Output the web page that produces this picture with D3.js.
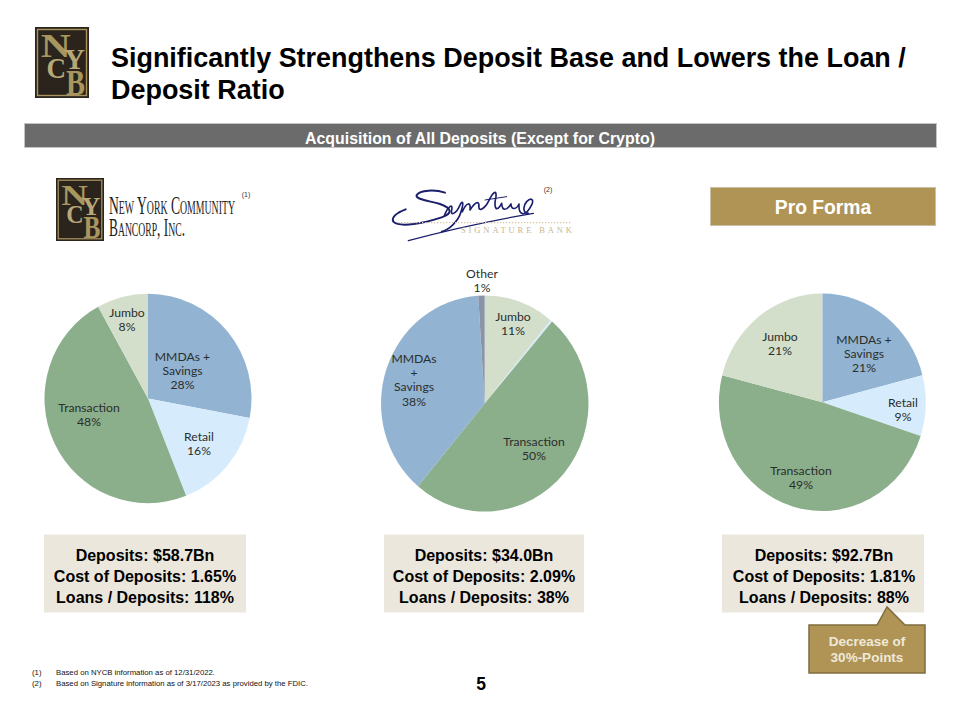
<!DOCTYPE html>
<html><head><meta charset="utf-8">
<script src="https://cdn.jsdelivr.net/npm/d3@7"></script>
<style>html,body{margin:0;padding:0;background:#fff}svg{display:block}</style>
</head><body><svg id="c" width="960" height="720"></svg>
<script>
// ---- data ----
const nycbCategories = ["MMDAs + Savings","Retail","Transaction","Jumbo"];
const nycbValues = [28,16,48,8];
const sigCategories = ["Jumbo","Retail","Transaction","MMDAs + Savings","Other"];
const sigValues = [11,0.3,50,38,1];
const proCategories = ["MMDAs + Savings","Retail","Transaction","Jumbo"];
const proValues = [21,9,49,21];
const nycbStats = ["Deposits: $58.7Bn","Cost of Deposits: 1.65%","Loans / Deposits: 118%"];
const sigStats = ["Deposits: $34.0Bn","Cost of Deposits: 2.09%","Loans / Deposits: 38%"];
const proStats = ["Deposits: $92.7Bn","Cost of Deposits: 1.81%","Loans / Deposits: 88%"];
const footnotes = ["Based on NYCB information as of 12/31/2022.","Based on Signature information as of 3/17/2023 as provided by the FDIC."];

const sliceColor = d3.scaleOrdinal()
  .domain(["MMDAs + Savings","Retail","Transaction","Jumbo","Other"])
  .range(["#92b3d2","#d6ebfc","#8bae8b","#d3dfcb","#8a94a6"]);

const svg = d3.select("#c");
const SANS = "'Liberation Sans',Arial,sans-serif";
const SERIF = "'Liberation Serif',serif";
const GOLD = "#b09455";

function txt(x,y,s,o={}){
  return svg.append("text").attr("x",x).attr("y",y).text(s)
    .attr("font-family",o.font||SANS).attr("font-size",o.size||12)
    .attr("font-weight",o.weight||"normal").attr("fill",o.fill||"#000")
    .attr("text-anchor",o.anchor||"start");
}

// ---- header ----
function nycbLogo(x,y,w,h){
  const g = svg.append("g").attr("transform",`translate(${x},${y}) scale(${w/54},${h/71})`);
  g.append("rect").attr("width",54).attr("height",71).attr("fill","#2a241c");
  g.append("rect").attr("x",2.5).attr("y",2.5).attr("width",49).attr("height",66).attr("fill","none").attr("stroke","#a8935f").attr("stroke-width",1.4);
  [["N",5.8,30,34,30,"#a8965f"],["Y",29,42,29,21,"#b8a878"],["C",11.5,51,29,19.5,"#b8a878"],["B",31,68,36,19,"#a8965f"]].forEach(([s,lx,ly,fs,tl,col])=>{
    g.append("text").attr("x",lx).attr("y",ly).attr("font-family",SERIF).attr("font-weight","bold")
      .attr("font-size",fs).attr("fill",col).attr("textLength",tl).attr("lengthAdjust","spacingAndGlyphs").text(s);
  });
}
nycbLogo(35,27,54,71);
txt(111,66.5,"Significantly Strengthens Deposit Base and Lowers the Loan /",{size:26.95,weight:"bold"});
txt(111,98.5,"Deposit Ratio",{size:26.95,weight:"bold"});

svg.append("rect").attr("x",24.5).attr("y",123.5).attr("width",912).attr("height",24).attr("fill","#6b6b6b").attr("stroke","#c4c4c4");
txt(480,144,"Acquisition of All Deposits (Except for Crypto)",{size:15.9,weight:"bold",fill:"#fff",anchor:"middle"});

// ---- company logos ----
nycbLogo(56,178,48,63);
txt(109,214,"New York Community",{font:SERIF,size:25,fill:"#222"}).attr("font-variant","small-caps").attr("textLength",126).attr("lengthAdjust","spacingAndGlyphs");
txt(109,235.5,"Bancorp, Inc.",{font:SERIF,size:25,fill:"#222"}).attr("font-variant","small-caps").attr("textLength",76).attr("lengthAdjust","spacingAndGlyphs");
txt(246,197,"(1)",{size:7,fill:"#333",anchor:"middle"});

const sig = svg.append("g").attr("transform","translate(385,180) scale(0.3333)")
  .attr("fill","none").attr("stroke","#1b1f6b").attr("stroke-linecap","round").attr("stroke-linejoin","round");
sig.append("path").attr("stroke-width",6)
  .attr("d","M180,38 C150,28 105,30 95,45 C90,58 130,62 165,72 C200,84 205,100 170,112 C120,128 45,145 25,125 C18,112 35,98 62,88");
sig.append("path").attr("stroke-width",5)
  .attr("d","M178,108 C185,85 205,65 200,90 C195,110 215,100 225,75 C232,60 238,65 228,95 C220,125 190,150 170,155 M232,95 C245,65 258,65 255,90 C268,70 280,60 282,75 C278,100 300,85 310,65 C322,40 335,25 333,50 C325,85 335,100 350,70 C352,95 365,92 378,72 C378,92 395,88 402,72 C400,105 420,115 440,75 C447,60 440,50 425,65 C412,80 415,100 430,100");
sig.append("path").attr("stroke-width",4).attr("d","M70,182 C170,155 330,120 445,100");
sig.append("path").attr("stroke-width",3).attr("d","M300,60 L365,50");
svg.append("line").attr("x1",398).attr("x2",572).attr("y1",222.7).attr("y2",222.7).attr("stroke","#d5c5a5").attr("stroke-width",1.3).attr("stroke-dasharray","1.3 1.7");
txt(461,233,"SIGNATURE BANK",{font:SERIF,size:8.5,fill:"#c6b696"}).attr("textLength",111).attr("lengthAdjust","spacing");
txt(548,192,"(2)",{size:7,fill:"#333",anchor:"middle"});

svg.append("rect").attr("x",710.5).attr("y",187.5).attr("width",225).attr("height",38).attr("fill",GOLD).attr("stroke","#c9c0a8");
txt(823,213.5,"Pro Forma",{size:19.3,weight:"bold",fill:"#fff",anchor:"middle"});

// ---- pies ----
function drawPie(cats,vals,cx,cy,r,ry,labels){
  const pie = d3.pie().sort(null).value(d=>d)(vals);
  const arc = d3.arc().innerRadius(0).outerRadius(r);
  const g = svg.append("g").attr("transform",`translate(${cx},${cy}) scale(1,${ry/r})`);
  g.selectAll("path").data(pie).join("path").attr("d",arc).attr("fill",(d,i)=>sliceColor(cats[i]));
  labels.forEach(l=>{
    l.lines.forEach((s,i)=>{
      txt(l.x,l.y+i*l.dy,s,{font:"Lato,'Open Sans',sans-serif",size:12.2,fill:"#2b2f2b",anchor:"middle"});
    });
  });
}
const lab=(x,y,lines,dy=14.4)=>({x,y:y+4.5,lines,dy});
drawPie(nycbCategories,nycbValues,148,398.5,103.5,104.7,[
  lab(182.5,356,["MMDAs +","Savings","28%"]),
  lab(199,436,["Retail","16%"]),
  lab(89,407,["Transaction","48%"]),
  lab(127,312,["Jumbo","8%"])
]);
drawPie(sigCategories,sigValues,484.7,403.5,103.7,108,[
  lab(482,273,["Other","1%"]),
  lab(513,316,["Jumbo","11%"]),
  lab(534,441,["Transaction","50%"]),
  lab(414,358,["MMDAs","+","Savings","38%"])
]);
drawPie(proCategories,proValues,822.3,402.3,103.4,108.7,[
  lab(864,339,["MMDAs +","Savings","21%"]),
  lab(903,402,["Retail","9%"]),
  lab(801,470,["Transaction","49%"]),
  lab(780,336,["Jumbo","21%"])
]);

// ---- stat boxes ----
function statBox(x,w,lines,cxt){
  svg.append("rect").attr("x",x).attr("y",534.5).attr("width",w).attr("height",78).attr("fill","#ece7dd");
  lines.forEach((s,i)=>txt(cxt,560.5+i*21.2,s,{size:16,weight:"bold",anchor:"middle"}));
}
statBox(44,202,nycbStats,145);
statBox(384,200,sigStats,484);
statBox(722,202,proStats,824);

// ---- callout ----
svg.append("path").attr("d",d3.line()([[809,625],[877,625],[887,607],[905,625],[925,625],[925,673],[809,673]])+"Z")
  .attr("fill",GOLD).attr("stroke","#7f6c3e").attr("stroke-width",1.5);
txt(867,646,"Decrease of",{size:13.5,weight:"bold",fill:"#efe9da",anchor:"middle"});
txt(867,662,"30%-Points",{size:13.5,weight:"bold",fill:"#efe9da",anchor:"middle"});

// ---- footnotes ----
footnotes.forEach((s,i)=>{
  txt(32,675+i*11,`(${i+1})`,{size:7.75,fill:"#111"});
  txt(56,675+i*11,s,{size:7.75,fill:"#111"});
});
txt(481,690,"5",{size:17.5,weight:"bold",anchor:"middle"});
</script></body></html>
